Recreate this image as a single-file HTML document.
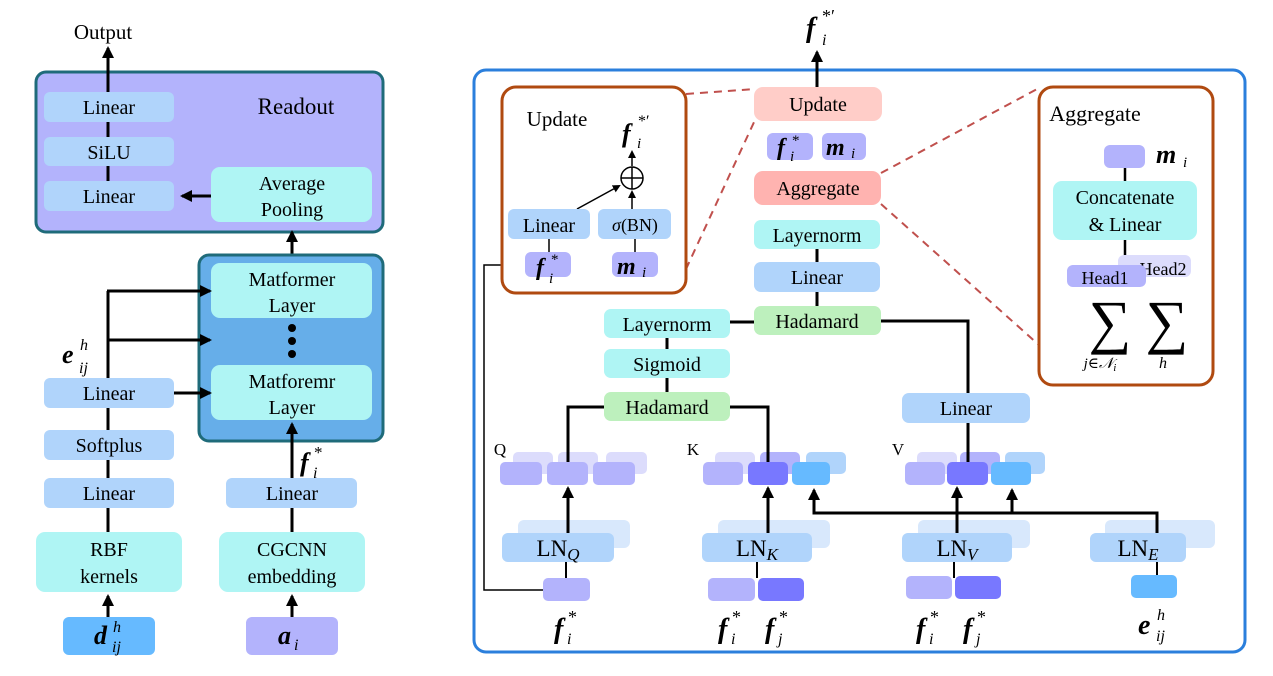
<!DOCTYPE html>
<html><head><meta charset="utf-8"><style>
body{margin:0;background:#fff}
svg{display:block}
text{font-family:"Liberation Serif","DejaVu Serif",serif;fill:#000}
.m{font-weight:bold;font-style:italic}
.s{text-anchor:start}
</style></head><body>
<svg width="1273" height="676" viewBox="0 0 1273 676" xmlns="http://www.w3.org/2000/svg">
<defs>
<marker id="a" markerWidth="8" markerHeight="8" refX="6" refY="4" orient="auto" markerUnits="userSpaceOnUse"><path d="M0,0 L8,4 L0,8 z" fill="#000"/></marker>
<marker id="b" markerWidth="12" markerHeight="12" refX="10" refY="6" orient="auto" markerUnits="userSpaceOnUse"><path d="M0,0 L12,6 L0,12 z" fill="#000"/></marker>
</defs>
<g font-size="20" text-anchor="middle">
<text x="103" y="39" font-size="21">Output</text>
<rect x="36" y="72" width="347" height="160" rx="10" fill="#b3b3fc" stroke="#1f6b7a" stroke-width="3"/>
<line x1="108" y1="92" x2="108" y2="48" stroke="#000" stroke-width="3" marker-end="url(#b)"/>
<line x1="108" y1="122" x2="108" y2="181" stroke="#000" stroke-width="3"/>
<rect x="44" y="92" width="130" height="30" rx="6" fill="#b0d4fb"/><text x="109" y="114">Linear</text>
<rect x="44" y="137" width="130" height="29" rx="6" fill="#b0d4fb"/><text x="109" y="159">SiLU</text>
<rect x="44" y="181" width="130" height="30" rx="6" fill="#b0d4fb"/><text x="109" y="203">Linear</text>
<text x="296" y="114" font-size="23">Readout</text>
<rect x="211" y="167" width="161" height="55" rx="9" fill="#aff5f4"/><text x="292" y="190">Average</text><text x="292" y="216">Pooling</text>
<line x1="211" y1="196" x2="182" y2="196" stroke="#000" stroke-width="3" marker-end="url(#b)"/>
<line x1="292" y1="256" x2="292" y2="232" stroke="#000" stroke-width="3" marker-end="url(#b)"/>
<rect x="199" y="255" width="184" height="186" rx="10" fill="#66aee9" stroke="#1f6b7a" stroke-width="3"/>
<rect x="211" y="263" width="161" height="55" rx="9" fill="#aff5f4"/><text x="292" y="286">Matformer</text><text x="292" y="312">Layer</text>
<circle cx="292" cy="328" r="4"/><circle cx="292" cy="341" r="4"/><circle cx="292" cy="354" r="4"/>
<rect x="211" y="365" width="161" height="55" rx="9" fill="#aff5f4"/><text x="292" y="388">Matforemr</text><text x="292" y="414">Layer</text>
<line x1="108" y1="378" x2="108" y2="291" stroke="#000" stroke-width="3"/>
<line x1="107" y1="291" x2="210" y2="291" stroke="#000" stroke-width="3" marker-end="url(#b)"/>
<line x1="107" y1="340" x2="210" y2="340" stroke="#000" stroke-width="3" marker-end="url(#b)"/>
<line x1="174" y1="393" x2="210" y2="393" stroke="#000" stroke-width="3" marker-end="url(#b)"/>
<text x="62" y="363" font-size="26" class="m s">e</text><text x="80" y="350" font-size="16" font-style="italic" class="s">h</text><text x="79" y="373" font-size="16" font-style="italic" class="s">ij</text>
<line x1="108" y1="408" x2="108" y2="532" stroke="#000" stroke-width="3"/>
<rect x="44" y="378" width="130" height="30" rx="6" fill="#b0d4fb"/><text x="109" y="400">Linear</text>
<rect x="44" y="430" width="130" height="30" rx="6" fill="#b0d4fb"/><text x="109" y="452">Softplus</text>
<rect x="44" y="478" width="130" height="30" rx="6" fill="#b0d4fb"/><text x="109" y="500">Linear</text>
<rect x="36" y="532" width="146" height="60" rx="9" fill="#aff5f4"/><text x="109" y="556">RBF</text><text x="109" y="583">kernels</text>
<line x1="108" y1="617" x2="108" y2="596" stroke="#000" stroke-width="3" marker-end="url(#b)"/>
<rect x="63" y="617" width="92" height="38" rx="6" fill="#66baff"/>
<text x="94" y="644" font-size="26" class="m s">d</text><text x="113" y="632" font-size="16" font-style="italic" class="s">h</text><text x="112" y="652" font-size="16" font-style="italic" class="s">ij</text>
<line x1="292" y1="478" x2="292" y2="424" stroke="#000" stroke-width="3" marker-end="url(#b)"/>
<line x1="292" y1="508" x2="292" y2="532" stroke="#000" stroke-width="3"/>
<text x="300" y="471" font-size="26" class="m s">f</text><text x="314" y="458" font-size="17" class="s">*</text><text x="313" y="478" font-size="16" font-style="italic" class="s">i</text>
<rect x="226" y="478" width="131" height="30" rx="6" fill="#b0d4fb"/><text x="292" y="500">Linear</text>
<rect x="219" y="532" width="146" height="60" rx="9" fill="#aff5f4"/><text x="292" y="556">CGCNN</text><text x="292" y="583">embedding</text>
<line x1="292" y1="617" x2="292" y2="596" stroke="#000" stroke-width="3" marker-end="url(#b)"/>
<rect x="246" y="617" width="92" height="38" rx="6" fill="#b3b3fc"/>
<text x="278" y="644" font-size="26" class="m s">a</text><text x="294" y="650" font-size="16" font-style="italic" class="s">i</text>

<rect x="474" y="70" width="771" height="582" rx="12" fill="none" stroke="#2b7fdc" stroke-width="3"/>
<line x1="817" y1="88" x2="817" y2="52" stroke="#000" stroke-width="3" marker-end="url(#b)"/>
<text x="806" y="37" font-size="28" class="m s">f</text><text x="822" y="22" font-size="18" class="s">*′</text><text x="822" y="45" font-size="16" font-style="italic" class="s">i</text>
<g stroke="#c0504d" stroke-width="2" stroke-dasharray="8,6" fill="none">
<line x1="686" y1="94" x2="755" y2="89"/><line x1="680" y1="282" x2="755" y2="120"/>
<line x1="881" y1="173" x2="1039" y2="88"/><line x1="881" y1="204" x2="1039" y2="345"/>
</g>
<rect x="754" y="87" width="128" height="34" rx="9" fill="#ffcdc8"/><text x="818" y="111">Update</text>
<rect x="767" y="133" width="46" height="27" rx="6" fill="#b3b3fc"/><text x="777" y="155" font-size="24" class="m s">f</text><text x="792" y="145" font-size="15" class="s">*</text><text x="790" y="161" font-size="15" font-style="italic" class="s">i</text>
<rect x="822" y="133" width="44" height="27" rx="6" fill="#b3b3fc"/><text x="826" y="155" font-size="24" class="m s">m</text><text x="851" y="158" font-size="15" font-style="italic" class="s">i</text>
<rect x="754" y="171" width="127" height="34" rx="9" fill="#ffb3b0"/><text x="818" y="195">Aggregate</text>
<line x1="817" y1="249" x2="817" y2="306" stroke="#000" stroke-width="3"/>
<rect x="754" y="220" width="126" height="29" rx="7" fill="#aff5f4"/><text x="817" y="242">Layernorm</text>
<rect x="754" y="262" width="126" height="30" rx="7" fill="#b0d4fb"/><text x="817" y="284">Linear</text>
<polyline points="730,322 755,322" stroke="#000" stroke-width="3" fill="none"/>
<polyline points="880,321 968,321 968,393" stroke="#000" stroke-width="3" fill="none"/>
<rect x="754" y="306" width="127" height="29" rx="7" fill="#bdf0bd"/><text x="817" y="328">Hadamard</text>
<line x1="667" y1="338" x2="667" y2="392" stroke="#000" stroke-width="3"/>
<rect x="604" y="309" width="126" height="29" rx="7" fill="#aff5f4"/><text x="667" y="331">Layernorm</text>
<rect x="604" y="349" width="126" height="29" rx="7" fill="#aff5f4"/><text x="667" y="371">Sigmoid</text>
<polyline points="604,407 568,407 568,462" stroke="#000" stroke-width="3" fill="none"/>
<polyline points="730,407 768,407 768,462" stroke="#000" stroke-width="3" fill="none"/>
<rect x="604" y="392" width="126" height="29" rx="7" fill="#bdf0bd"/><text x="667" y="414">Hadamard</text>
<line x1="968" y1="423" x2="968" y2="462" stroke="#000" stroke-width="3"/>
<rect x="902" y="393" width="128" height="30" rx="7" fill="#b0d4fb"/><text x="966" y="415">Linear</text>
<text x="500" y="455" font-size="17">Q</text><text x="693" y="455" font-size="17">K</text><text x="898" y="455" font-size="17">V</text>
<g>
<rect x="513" y="452" width="40" height="22" rx="5" fill="#dcdcfc"/><rect x="558" y="452" width="40" height="22" rx="5" fill="#dcdcfc"/><rect x="606" y="452" width="41" height="22" rx="5" fill="#dcdcfc"/>
<rect x="500" y="462" width="42" height="23" rx="5" fill="#b3b3fc"/><rect x="547" y="462" width="41" height="23" rx="5" fill="#b3b3fc"/><rect x="593" y="462" width="42" height="23" rx="5" fill="#b3b3fc"/>
<rect x="715" y="452" width="40" height="22" rx="5" fill="#dcdcfc"/><rect x="760" y="452" width="40" height="22" rx="5" fill="#b3b3fc"/><rect x="806" y="452" width="40" height="22" rx="5" fill="#b0d4fb"/>
<rect x="703" y="462" width="40" height="23" rx="5" fill="#b3b3fc"/><rect x="748" y="462" width="40" height="23" rx="5" fill="#7878ff"/><rect x="792" y="462" width="38" height="23" rx="5" fill="#66baff"/>
<rect x="917" y="452" width="40" height="22" rx="5" fill="#dcdcfc"/><rect x="960" y="452" width="40" height="22" rx="5" fill="#b3b3fc"/><rect x="1005" y="452" width="40" height="22" rx="5" fill="#b0d4fb"/>
<rect x="905" y="462" width="40" height="23" rx="5" fill="#b3b3fc"/><rect x="947" y="462" width="41" height="23" rx="5" fill="#7878ff"/><rect x="991" y="462" width="40" height="23" rx="5" fill="#66baff"/>
</g>
<line x1="568" y1="462" x2="568" y2="452" stroke="#000" stroke-width="3"/>
<line x1="768" y1="462" x2="768" y2="452" stroke="#000" stroke-width="3"/>
<line x1="968" y1="462" x2="968" y2="452" stroke="#000" stroke-width="3"/>
<rect x="518" y="520" width="112" height="28" rx="6" fill="#d8e8fc"/><rect x="502" y="533" width="112" height="29" rx="6" fill="#b0d4fb"/>
<text x="558" y="556" font-size="23">LN<tspan font-size="17" font-style="italic" dy="4">Q</tspan></text>
<rect x="718" y="520" width="112" height="28" rx="6" fill="#d8e8fc"/><rect x="702" y="533" width="110" height="29" rx="6" fill="#b0d4fb"/>
<text x="757" y="556" font-size="23">LN<tspan font-size="17" font-style="italic" dy="4">K</tspan></text>
<rect x="918" y="520" width="112" height="28" rx="6" fill="#d8e8fc"/><rect x="902" y="533" width="110" height="29" rx="6" fill="#b0d4fb"/>
<text x="957" y="556" font-size="23">LN<tspan font-size="17" font-style="italic" dy="4">V</tspan></text>
<rect x="1105" y="520" width="110" height="28" rx="6" fill="#d8e8fc"/><rect x="1090" y="533" width="96" height="29" rx="6" fill="#b0d4fb"/>
<text x="1138" y="556" font-size="23">LN<tspan font-size="17" font-style="italic" dy="4">E</tspan></text>
<line x1="568" y1="533" x2="568" y2="488" stroke="#000" stroke-width="3" marker-end="url(#b)"/>
<line x1="768" y1="533" x2="768" y2="488" stroke="#000" stroke-width="3" marker-end="url(#b)"/>
<line x1="957" y1="533" x2="957" y2="488" stroke="#000" stroke-width="3" marker-end="url(#b)"/>
<polyline points="1157,533 1157,513 814,513 814,490" stroke="#000" stroke-width="3" fill="none" marker-end="url(#b)"/>
<line x1="1012" y1="513" x2="1012" y2="490" stroke="#000" stroke-width="3" marker-end="url(#b)"/>
<line x1="566" y1="562" x2="566" y2="578" stroke="#000" stroke-width="2"/>
<line x1="757" y1="562" x2="757" y2="578" stroke="#000" stroke-width="2"/>
<line x1="954" y1="562" x2="954" y2="578" stroke="#000" stroke-width="2"/>
<line x1="1157" y1="562" x2="1157" y2="575" stroke="#000" stroke-width="2"/>
<rect x="543" y="578" width="47" height="23" rx="5" fill="#b3b3fc"/>
<rect x="708" y="578" width="47" height="23" rx="5" fill="#b3b3fc"/><rect x="758" y="578" width="46" height="23" rx="5" fill="#7878ff"/>
<rect x="906" y="576" width="46" height="23" rx="5" fill="#b3b3fc"/><rect x="955" y="576" width="46" height="23" rx="5" fill="#7878ff"/>
<rect x="1131" y="575" width="46" height="23" rx="5" fill="#66baff"/>
<polyline points="543,590 484,590 484,265 522,265" stroke="#000" stroke-width="1.5" fill="none" marker-end="url(#a)"/>
<g font-size="28"><text x="554" y="638" class="m s">f</text><text x="718" y="638" class="m s">f</text><text x="765" y="638" class="m s">f</text><text x="916" y="638" class="m s">f</text><text x="963" y="638" class="m s">f</text><text x="1138" y="634" class="m s">e</text></g>
<g font-size="18"><text x="568" y="623" class="s">*</text><text x="732" y="623" class="s">*</text><text x="779" y="623" class="s">*</text><text x="930" y="623" class="s">*</text><text x="977" y="623" class="s">*</text></g>
<g font-size="16" font-style="italic"><text x="567" y="644" class="s">i</text><text x="731" y="644" class="s">i</text><text x="778" y="644" class="s">j</text><text x="929" y="644" class="s">i</text><text x="976" y="644" class="s">j</text><text x="1157" y="620" class="s">h</text><text x="1156" y="641" class="s">ij</text></g>

<rect x="502" y="87" width="184" height="206" rx="14" fill="#fff" stroke="#b04a10" stroke-width="3"/>
<text x="557" y="126" font-size="21">Update</text>
<text x="622" y="142" font-size="26" class="m s">f</text><text x="638" y="126" font-size="16" class="s">*′</text><text x="637" y="148" font-size="15" font-style="italic" class="s">i</text>
<circle cx="632" cy="178" r="11" fill="none" stroke="#000" stroke-width="1.5"/>
<line x1="621" y1="178" x2="643" y2="178" stroke="#000" stroke-width="1.5"/><line x1="632" y1="167" x2="632" y2="189" stroke="#000" stroke-width="1.5"/>
<line x1="632" y1="166" x2="632" y2="152" stroke="#000" stroke-width="1.5" marker-end="url(#a)"/>
<line x1="632" y1="209" x2="632" y2="192" stroke="#000" stroke-width="1.5" marker-end="url(#a)"/>
<line x1="577" y1="209" x2="619" y2="186" stroke="#000" stroke-width="1.5" marker-end="url(#a)"/>
<rect x="508" y="209" width="82" height="30" rx="6" fill="#b0d4fb"/><text x="549" y="232">Linear</text>
<rect x="598" y="209" width="73" height="30" rx="6" fill="#b0d4fb"/><text x="635" y="231" font-size="18"><tspan font-style="italic">σ</tspan>(BN)</text>
<line x1="549" y1="239" x2="549" y2="252" stroke="#000" stroke-width="1.5"/><line x1="635" y1="239" x2="635" y2="252" stroke="#000" stroke-width="1.5"/>
<rect x="525" y="252" width="46" height="25" rx="6" fill="#b3b3fc"/><text x="536" y="275" font-size="24" class="m s">f</text><text x="551" y="264" font-size="15" class="s">*</text><text x="549" y="283" font-size="15" font-style="italic" class="s">i</text>
<rect x="612" y="252" width="46" height="25" rx="6" fill="#b3b3fc"/><text x="617" y="274" font-size="24" class="m s">m</text><text x="642" y="277" font-size="15" font-style="italic" class="s">i</text>

<rect x="1039" y="87" width="174" height="298" rx="14" fill="#fff" stroke="#b04a10" stroke-width="3"/>
<text x="1095" y="121" font-size="22">Aggregate</text>
<line x1="1125" y1="168" x2="1125" y2="181" stroke="#000" stroke-width="2.5"/>
<line x1="1125" y1="240" x2="1125" y2="256" stroke="#000" stroke-width="2.5"/>
<rect x="1104" y="145" width="41" height="23" rx="6" fill="#b3b3fc"/>
<text x="1156" y="163" font-size="26" class="m s">m</text><text x="1183" y="167" font-size="15" font-style="italic" class="s">i</text>
<rect x="1053" y="181" width="144" height="59" rx="9" fill="#aff5f4"/><text x="1125" y="204">Concatenate</text><text x="1125" y="231">&amp; Linear</text>
<rect x="1118" y="255" width="73" height="22" rx="6" fill="#dcdcfc"/><text x="1163" y="275" font-size="18">Head2</text>
<rect x="1067" y="265" width="79" height="22" rx="6" fill="#b3b3fc"/><text x="1105" y="284" font-size="18">Head1</text>
<text x="1110" y="342" font-size="60">∑</text><text x="1167" y="342" font-size="60">∑</text>
<text x="1100" y="368" font-size="15" font-style="italic">j∈𝒩<tspan font-size="11" dy="3">i</tspan></text>
<text x="1163" y="368" font-size="16" font-style="italic">h</text>
</g>
</svg>
</body></html>
